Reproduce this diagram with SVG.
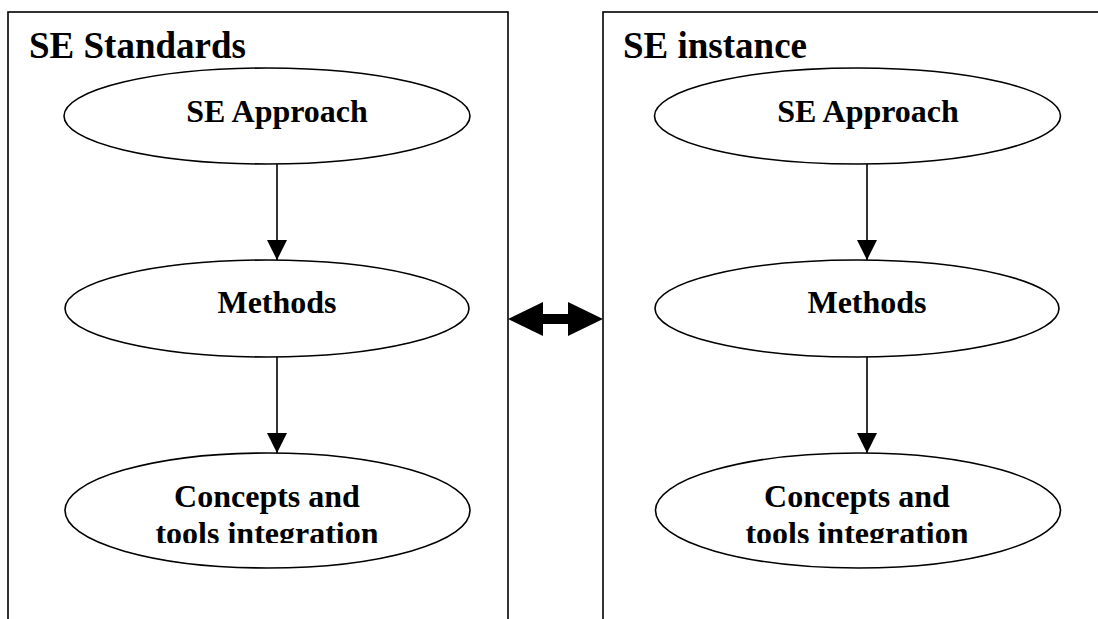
<svg xmlns="http://www.w3.org/2000/svg" width="1098" height="619" viewBox="0 0 1098 619">
<style>
.box{fill:#fff;stroke:#000;stroke-width:1.6}
.node{fill:#fff;stroke:#000;stroke-width:1.6}
.t{font-family:"Liberation Serif","Times New Roman",serif;font-weight:bold;fill:#000;text-anchor:middle}
.n{font-size:32px}
.title{font-size:37px;text-anchor:start}
.edge{stroke:#000;stroke-width:1.6;fill:none}
</style>
<defs>
<marker id="ah" markerWidth="20" markerHeight="20" viewBox="0 0 20 20" refX="20" refY="10" markerUnits="userSpaceOnUse" orient="auto">
<path d="M0,0 L20,10 L0,20 Z" fill="#000"/>
</marker>
<clipPath id="clipL"><rect x="0" y="0" width="1098" height="543"/></clipPath>
</defs>
<rect width="1098" height="619" fill="#fff"/>
<g id="frame-standards">
<rect class="box" x="8" y="12" width="500" height="640"/>
<text class="t title" x="29" y="58">SE Standards</text>
</g>
<g id="frame-instance">
<rect class="box" x="603" y="12" width="520" height="640"/>
<text class="t title" x="623" y="58">SE instance</text>
</g>
<g id="std-approach">
<ellipse class="node" cx="267" cy="116" rx="203" ry="48"/>
<text class="t n" x="277" y="122">SE Approach</text>
</g>
<g id="std-methods">
<ellipse class="node" cx="267" cy="308.5" rx="202" ry="48.5"/>
<text class="t n" x="277" y="313">Methods</text>
</g>
<g id="std-concepts">
<ellipse class="node" cx="267.5" cy="510.5" rx="202.5" ry="57.5"/>
<text class="t n" clip-path="url(#clipL)"><tspan x="267" y="507">Concepts and</tspan><tspan x="267" y="544">tools integration</tspan></text>
</g>
<g id="inst-approach">
<ellipse class="node" cx="857.5" cy="116" rx="203" ry="48"/>
<text class="t n" x="868" y="122">SE Approach</text>
</g>
<g id="inst-methods">
<ellipse class="node" cx="857" cy="308.5" rx="202" ry="48.5"/>
<text class="t n" x="867" y="313">Methods</text>
</g>
<g id="inst-concepts">
<ellipse class="node" cx="858" cy="510.5" rx="202.5" ry="57.5"/>
<text class="t n" clip-path="url(#clipL)"><tspan x="857" y="507">Concepts and</tspan><tspan x="857" y="544">tools integration</tspan></text>
</g>
<g id="connectors">
<line class="edge" x1="277" y1="164" x2="277" y2="260" marker-end="url(#ah)"/>
<line class="edge" x1="277" y1="357" x2="277" y2="453" marker-end="url(#ah)"/>
<line class="edge" x1="867" y1="164" x2="867" y2="260" marker-end="url(#ah)"/>
<line class="edge" x1="867" y1="357" x2="867" y2="453" marker-end="url(#ah)"/>
<polygon points="508,319 543,302 543,314 568,314 568,302 603,319 568,336 568,324 543,324 543,336" fill="#000"/>
</g>
</svg>
